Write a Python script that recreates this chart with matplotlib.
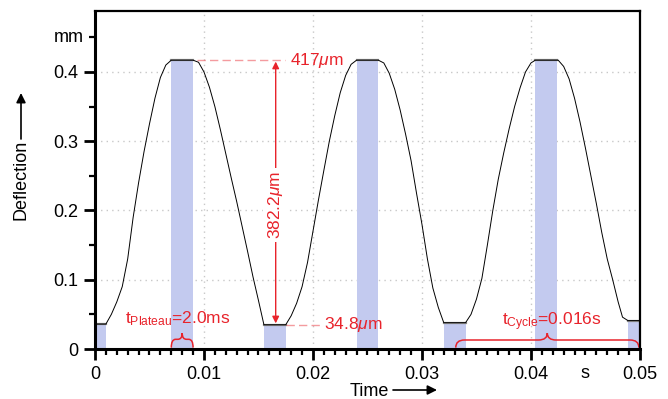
import matplotlib

matplotlib.use("Agg")
import matplotlib.pyplot as plt
from matplotlib.path import Path
from matplotlib.patches import PathPatch
from matplotlib.ticker import MultipleLocator

# deflection trace (time in s, deflection in mm)
time_s = [
    0.0, 0.001,
    0.0015, 0.002, 0.0025, 0.003, 0.0035, 0.004, 0.0045, 0.005, 0.0055, 0.006, 0.0065, 0.007,
    0.009, 0.0095, 0.010, 0.0105, 0.011, 0.0115, 0.012, 0.0125, 0.013, 0.0135, 0.014, 0.0145, 0.015, 0.0155,
    0.0175, 0.018, 0.0185, 0.019, 0.0195, 0.020, 0.0205, 0.021, 0.0215, 0.022, 0.0225, 0.023, 0.0235, 0.024,
    0.026, 0.0265, 0.027, 0.0275, 0.028, 0.0285, 0.029, 0.0295, 0.030, 0.0305, 0.031, 0.0315, 0.032,
    0.034, 0.0345, 0.035, 0.0355, 0.036, 0.0365, 0.037, 0.0375, 0.038, 0.0385, 0.039, 0.0395, 0.040, 0.0404,
    0.0425, 0.043, 0.0435, 0.044, 0.0445, 0.045, 0.0455, 0.046, 0.0465, 0.047, 0.0475, 0.048, 0.0484, 0.0489,
    0.05,
]
deflection_mm = [
    0.036, 0.036,
    0.050, 0.068, 0.090, 0.130, 0.190, 0.240, 0.285, 0.325, 0.362, 0.392, 0.410, 0.417,
    0.417, 0.414, 0.400, 0.378, 0.350, 0.317, 0.282, 0.247, 0.213, 0.177, 0.141, 0.104, 0.070, 0.035,
    0.035, 0.048, 0.066, 0.090, 0.125, 0.170, 0.215, 0.258, 0.300, 0.337, 0.370, 0.395, 0.411, 0.417,
    0.417, 0.413, 0.398, 0.375, 0.345, 0.310, 0.272, 0.225, 0.180, 0.130, 0.088, 0.060, 0.038,
    0.038, 0.050, 0.072, 0.102, 0.150, 0.200, 0.245, 0.283, 0.318, 0.350, 0.377, 0.400, 0.413, 0.417,
    0.417, 0.408, 0.390, 0.362, 0.328, 0.290, 0.250, 0.210, 0.168, 0.130, 0.100, 0.068, 0.046, 0.041,
    0.041,
]

# plateau intervals (start, end, level)
top_plateaus = [(0.007, 0.009, 0.417), (0.024, 0.026, 0.417), (0.0404, 0.0424, 0.417)]
bottom_plateaus = [(0.0, 0.001, 0.036), (0.0155, 0.0175, 0.035), (0.032, 0.034, 0.038), (0.0489, 0.05, 0.041)]

peak_um = 417
valley_um = 34.8
stroke_um = 382.2
plateau_ms = 2.0
cycle_s = 0.016

x_ticks = [0, 0.01, 0.02, 0.03, 0.04, 0.05]
x_tick_labels = ["0", "0.01", "0.02", "0.03", "0.04", "0.05"]
y_ticks = [0, 0.1, 0.2, 0.3, 0.4]
y_tick_labels = ["0", "0.1", "0.2", "0.3", "0.4"]

RED = "#e8232b"
SHADE = "#c3caef"

plt.rcParams["font.family"] = ["Liberation Sans", "DejaVu Sans"]
plt.rcParams["mathtext.fontset"] = "custom"
plt.rcParams["mathtext.rm"] = "Liberation Sans"
plt.rcParams["mathtext.it"] = "Liberation Sans:italic"


def curly_brace(axis, x0, x1, y_base, y_mid, y_tip, rx):
    xc = (x0 + x1) / 2
    verts = [
        (x0, y_base), (x0, y_mid), (x0 + rx, y_mid),
        (xc - rx, y_mid), (xc, y_mid), (xc, y_tip),
        (xc, y_mid), (xc + rx, y_mid),
        (x1 - rx, y_mid), (x1, y_mid), (x1, y_base),
    ]
    codes = [
        Path.MOVETO, Path.CURVE3, Path.CURVE3,
        Path.LINETO, Path.CURVE3, Path.CURVE3,
        Path.CURVE3, Path.CURVE3,
        Path.LINETO, Path.CURVE3, Path.CURVE3,
    ]
    axis.add_patch(PathPatch(Path(verts, codes), fill=False, edgecolor=RED, linewidth=1.1, zorder=6))


figure = plt.figure(figsize=(6.68, 3.99), dpi=100)
axis = figure.add_axes([0.1422, 0.1253, 0.8158, 0.8471])
axis.set_xlim(0, 0.05)
axis.set_ylim(0, 0.488)

for start, end, level in top_plateaus + bottom_plateaus:
    axis.fill_between([start, end], 0, level, color=SHADE, linewidth=0, zorder=1)
    axis.plot([start, end], [level, level], color="#8a8a8a", linewidth=1.6, zorder=3)

axis.plot(time_s, deflection_mm, color="black", linewidth=0.7, zorder=4)

axis.set_xticks(x_ticks, x_tick_labels)
axis.set_yticks(y_ticks, y_tick_labels)
axis.xaxis.set_minor_locator(MultipleLocator(0.001))
axis.yaxis.set_minor_locator(MultipleLocator(0.05))
axis.tick_params(axis="both", which="major", direction="out", length=8, width=2, labelsize=13, pad=4)
axis.tick_params(axis="both", which="minor", direction="out", length=4.5, width=1.6)
axis.grid(True, which="major", color="#c8c8c8", linestyle=(0, (1, 3)), linewidth=1.0, zorder=0)
axis.set_axisbelow(True)
for name, spine in axis.spines.items():
    spine.set_linewidth(2.2 if name in ("left", "bottom") else 1.6)
    spine.set_zorder(7)

# unit labels in the tick rows
axis.text(-0.001, 0.45, "mm", ha="right", va="center", fontsize=13)
axis.text(0.045, -0.036, "s", ha="center", va="center", fontsize=13)

# peak / valley annotations
axis.plot([0.0094, 0.0174], [0.417, 0.417], color=RED, alpha=0.45, linewidth=1.0, linestyle=(0, (6, 3)), zorder=5)
axis.plot([0.0175, 0.0208], [0.0348, 0.0348], color=RED, alpha=0.45, linewidth=1.0, linestyle=(0, (6, 3)), zorder=5)
axis.text(0.0179, 0.417, f"{peak_um}$\\mathit{{\\mu}}$m", color=RED, fontsize=12.5, ha="left", va="center")
axis.text(0.0210, 0.0348, f"{valley_um}$\\mathit{{\\mu}}$m", color=RED, fontsize=12.5, ha="left", va="center")
axis.annotate(
    "", xy=(0.01658, 0.415), xytext=(0.01658, 0.037),
    arrowprops=dict(arrowstyle="<|-|>", color=RED, linewidth=1.0, mutation_scale=10, shrinkA=0, shrinkB=0),
    zorder=5,
)
axis.text(
    0.01658, 0.208, f"{stroke_um}$\\mathit{{\\mu}}$m", color=RED, fontsize=12.5, rotation=90,
    ha="center", va="center", bbox=dict(facecolor="white", edgecolor="none", pad=2), zorder=6,
)

# plateau and cycle braces
curly_brace(axis, 0.007, 0.009, 0.002, 0.014, 0.023, 0.0004)
axis.text(0.00275, 0.037, f"t$_{{\\mathrm{{Plateau}}}}$={plateau_ms:.1f}ms", color=RED, fontsize=12.5,
          ha="left", va="baseline")
curly_brace(axis, 0.0331, 0.0499, 0.002, 0.013, 0.023, 0.0008)
axis.text(0.0373, 0.034, f"t$_{{\\mathrm{{Cycle}}}}$={cycle_s}s", color=RED, fontsize=12.5,
          ha="left", va="baseline")

# axis titles with arrows
figure.text(350 / 668, 1 - 391 / 399, "Time", fontsize=13, ha="left", va="center")
axis.annotate("", xy=(437 / 668, 1 - 390 / 399), xytext=(393 / 668, 1 - 390 / 399),
              xycoords="figure fraction", textcoords="figure fraction",
              arrowprops=dict(arrowstyle="-|>", color="black", linewidth=1.2, mutation_scale=14, shrinkA=0, shrinkB=0),
              annotation_clip=False)
figure.text(21 / 668, 1 - 180 / 399, "Deflection", fontsize=13, rotation=90, ha="center", va="center")
axis.annotate("", xy=(21 / 668, 1 - 93 / 399), xytext=(21 / 668, 1 - 139 / 399),
              xycoords="figure fraction", textcoords="figure fraction",
              arrowprops=dict(arrowstyle="-|>", color="black", linewidth=1.2, mutation_scale=14, shrinkA=0, shrinkB=0),
              annotation_clip=False)

figure.savefig("out.png", dpi=100)
